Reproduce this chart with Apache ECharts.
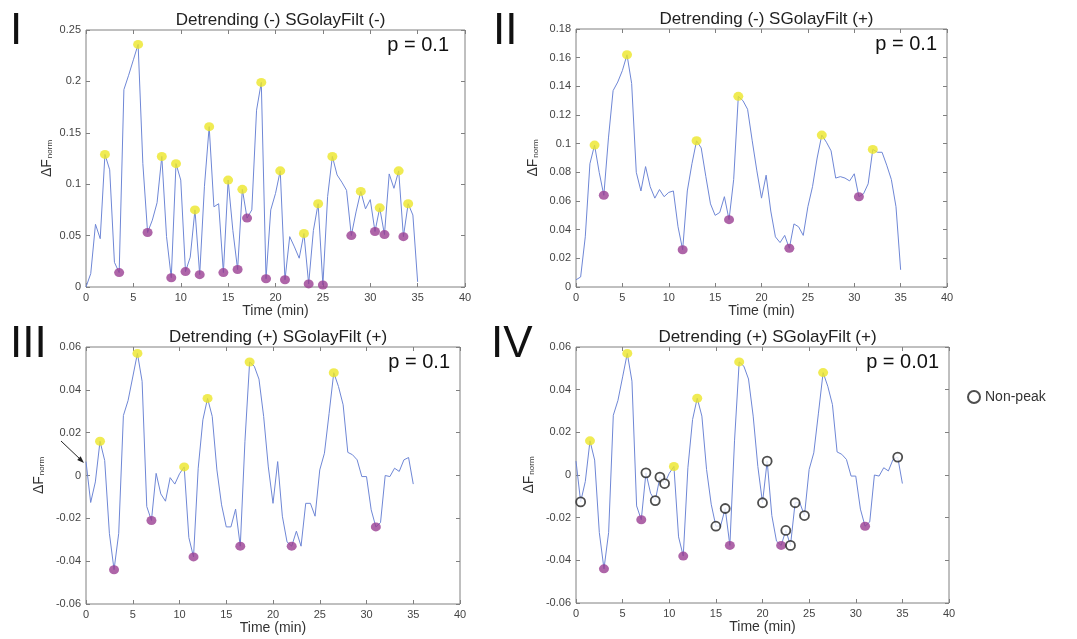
<!DOCTYPE html>
<html>
<head>
<meta charset="utf-8">
<script src="https://cdn.jsdelivr.net/npm/echarts@6/dist/echarts.min.js"></script>
<style>html,body{margin:0;padding:0;background:#fff;}#c{width:1077px;height:639px;}</style>
</head>
<body>
<div id="c"></div>
<script>
const time = [0,0.5,1,1.5,2,2.5,3,3.5,4,4.5,5,5.5,6,6.5,7,7.5,8,8.5,9,9.5,10,10.5,11,11.5,12,12.5,13,13.5,14,14.5,15,15.5,16,16.5,17,17.5,18,18.5,19,19.5,20,20.5,21,21.5,22,22.5,23,23.5,24,24.5,25,25.5,26,26.5,27,27.5,28,28.5,29,29.5,30,30.5,31,31.5,32,32.5,33,33.5,34,34.5,35];

const valuesI = [0,0.013,0.061,0.047,0.129,0.114,0.024,0.014,0.192,0.206,0.221,0.236,0.12,0.053,0.065,0.082,0.127,0.049,0.009,0.12,0.104,0.015,0.029,0.075,0.012,0.098,0.156,0.078,0.081,0.014,0.104,0.055,0.017,0.095,0.067,0.075,0.172,0.199,0.008,0.075,0.091,0.113,0.007,0.049,0.039,0.028,0.052,0.003,0.055,0.081,0.002,0.088,0.127,0.109,0.102,0.094,0.05,0.073,0.093,0.076,0.085,0.054,0.077,0.051,0.11,0.096,0.113,0.049,0.081,0.07,0.005];
const peaksI = [2,5.5,8,9.5,11.5,13,15,16.5,18.5,20.5,23,24.5,26,29,31,33,34];
const troughsI = [3.5,6.5,9,10.5,12,14.5,16,17,19,21,23.5,25,28,30.5,31.5,33.5];

const valuesII = [0.005,0.007,0.035,0.086,0.099,0.08,0.064,0.104,0.137,0.143,0.151,0.162,0.142,0.08,0.067,0.084,0.07,0.062,0.068,0.063,0.066,0.067,0.042,0.026,0.067,0.086,0.102,0.097,0.077,0.058,0.05,0.052,0.063,0.047,0.075,0.133,0.13,0.124,0.102,0.081,0.062,0.078,0.053,0.035,0.031,0.036,0.027,0.044,0.042,0.036,0.056,0.07,0.09,0.106,0.101,0.095,0.076,0.077,0.076,0.074,0.079,0.063,0.065,0.072,0.096,0.094,0.094,0.085,0.075,0.056,0.012];
const peaksII = [2,5.5,13,17.5,26.5,32];
const troughsII = [3,11.5,16.5,23,30.5];

const valuesIII = [0.0065,-0.0126,-0.003,0.016,0.007,-0.027,-0.044,-0.027,0.028,0.035,0.046,0.057,0.044,-0.0145,-0.021,0.001,-0.0086,-0.012,-0.001,-0.004,0.0008,0.004,-0.029,-0.038,0.0034,0.026,0.036,0.0276,0.0026,-0.0137,-0.024,-0.024,-0.0157,-0.033,0.016,0.053,0.051,0.045,0.0276,0.004,-0.013,0.0065,-0.019,-0.031,-0.033,-0.026,-0.033,-0.013,-0.013,-0.019,0.0026,0.0104,0.029,0.048,0.0416,0.033,0.0108,0.0097,0.0073,-0.0005,-0.0005,-0.016,-0.024,-0.022,0,-0.0005,0.0034,0.0019,0.0073,0.0084,-0.004];
const peaksIII = [1.5,5.5,10.5,13,17.5,26.5];
const troughsIII = [3,7,11.5,16.5,22,31];
const nonPeaksIV = [0.5,7.5,8.5,9,9.5,15,16,20,20.5,22.5,23,23.5,24.5,34.5];

const xTicks = {min:0, max:40, interval:5};
const yTicksI = {min:0, max:0.25, interval:0.05};
const yTicksII = {min:0, max:0.18, interval:0.02};
const yTicksIII = {min:-0.06, max:0.06, interval:0.02};

const titles = ['Detrending (-) SGolayFilt (-)','Detrending (-) SGolayFilt (+)','Detrending (+) SGolayFilt (+)','Detrending (+) SGolayFilt (+)'];
const pLabels = ['p = 0.1','p = 0.1','p = 0.1','p = 0.01'];
const numerals = ['I','II','III','IV'];

const FONT = 'Liberation Sans, Arial, Helvetica, sans-serif';
const LINE = '#6f87d6', YEL = '#ece628', PUR = '#9a3f92', BORDER = '#808080';

const grids = [
  {left:86, top:30, width:379, height:257},
  {left:576, top:29, width:371, height:258},
  {left:86, top:347, width:374, height:257},
  {left:576, top:347, width:373, height:256}
];
const yTicks = [yTicksI, yTicksII, yTicksIII, yTicksIII];
const vals = [valuesI, valuesII, valuesIII, valuesIII];
const peaks = [peaksI, peaksII, peaksIII, peaksIII];
const troughs = [troughsI, troughsII, troughsIII, troughsIII];

function pts(v, ts){ return ts.map(t => [t, v[time.indexOf(t)]]); }

const option = {
  animation:false,
  backgroundColor:'#fff',
  textStyle:{fontFamily:FONT},
  grid: grids.map(g => Object.assign({show:true, borderColor:BORDER, borderWidth:1, backgroundColor:'#fff'}, g)),
  xAxis: [], yAxis: [], series: [], title: [], graphic: [],
  legend: {
    left: 962, top: 385, itemWidth: 12, itemHeight: 12, itemGap: 6,
    data: [{name:'Non-peak', icon:'circle', itemStyle:{color:'#fff', borderColor:'#222', borderWidth:2}}],
    textStyle:{fontSize:14, color:'#333', fontFamily:FONT}
  }
};

for (let i=0;i<4;i++){
  const g = grids[i];
  option.xAxis.push({
    gridIndex:i, type:'value', position:'bottom', min:xTicks.min, max:xTicks.max, interval:xTicks.interval,
    name:'Time (min)', nameLocation:'middle', nameGap:17,
    nameTextStyle:{fontSize:14, color:'#333', fontFamily:FONT},
    axisLine:{show:false, onZero:false}, splitLine:{show:false},
    axisTick:{inside:true, length:4, lineStyle:{color:BORDER}},
    axisLabel:{fontSize:11, color:'#444', margin:5, fontFamily:FONT}
  });
  option.xAxis.push({
    gridIndex:i, type:'value', position:'top', min:xTicks.min, max:xTicks.max, interval:xTicks.interval,
    axisLine:{show:false, onZero:false}, splitLine:{show:false}, axisLabel:{show:false},
    axisTick:{inside:true, length:4, lineStyle:{color:BORDER}}
  });
  option.yAxis.push({
    gridIndex:i, type:'value', position:'left', min:yTicks[i].min, max:yTicks[i].max, interval:yTicks[i].interval,
    name:'{a|ΔF}{b|norm}', nameLocation:'middle', nameGap: i===1 ? 36 : (i===0 ? 32 : 40),
    nameTextStyle:{rich:{a:{fontSize:14, color:'#333', fontFamily:FONT}, b:{fontSize:8, color:'#333', fontFamily:FONT, verticalAlign:'bottom', padding:[6,0,0,1]}}},
    axisLine:{show:false, onZero:false}, splitLine:{show:false},
    axisTick:{inside:true, length:4, lineStyle:{color:BORDER}},
    axisLabel:{fontSize:11, color:'#444', margin:5, fontFamily:FONT}
  });
  option.yAxis.push({
    gridIndex:i, type:'value', position:'right', min:yTicks[i].min, max:yTicks[i].max, interval:yTicks[i].interval,
    axisLine:{show:false, onZero:false}, splitLine:{show:false}, axisLabel:{show:false},
    axisTick:{inside:true, length:4, lineStyle:{color:BORDER}}
  });
  option.series.push({
    type:'line', xAxisIndex:2*i, yAxisIndex:2*i, data: time.map((t,k)=>[t, vals[i][k]]),
    showSymbol:false, symbol:'none', lineStyle:{color:LINE, width:1}, z:2
  });
  option.series.push({
    type:'scatter', xAxisIndex:2*i, yAxisIndex:2*i, data: pts(vals[i], peaks[i]),
    symbol:'circle', symbolSize:[10,9], itemStyle:{color:YEL}, z:3
  });
  option.series.push({
    type:'scatter', xAxisIndex:2*i, yAxisIndex:2*i, data: pts(vals[i], troughs[i]),
    symbol:'circle', symbolSize:[10,9], itemStyle:{color:PUR}, z:3
  });
  option.title.push({
    text: titles[i], left: g.left + g.width/2, top: g.top - 23, textAlign:'center',
    textStyle:{fontSize:17, fontWeight:'normal', color:'#222', fontFamily:FONT}
  });
  option.graphic.push({
    type:'text', right: 1077 - (g.left + g.width) + (i===0 ? 16 : 10), top: g.top + 5,
    style:{text: pLabels[i], fontSize:20, fill:'#111', fontFamily:FONT}
  });
}

option.series.push({
  name:'Non-peak', type:'scatter', xAxisIndex:6, yAxisIndex:6, data: pts(valuesIII, nonPeaksIV),
  symbol:'circle', symbolSize:9, itemStyle:{color:'#fff', borderColor:'#222', borderWidth:1.8}, z:4
});

const numeralPos = [[10,10],[493,10],[10,323],[491,323]];
numerals.forEach((n,k)=>{
  option.graphic.push({type:'text', left:numeralPos[k][0], top:numeralPos[k][1],
    style:{text:n, fontSize:44, fill:'#111', fontFamily:FONT}});
});

// arrow annotation in panel III
option.graphic.push({type:'line', shape:{x1:61, y1:441, x2:81, y2:460}, style:{stroke:'#222', lineWidth:1}});
option.graphic.push({type:'polygon', shape:{points:[[84,463],[77.2,459.9],[80.6,456.3]]}, style:{fill:'#222'}});

const chart = echarts.init(document.getElementById('c'));
chart.setOption(option);
</script>
</body>
</html>
